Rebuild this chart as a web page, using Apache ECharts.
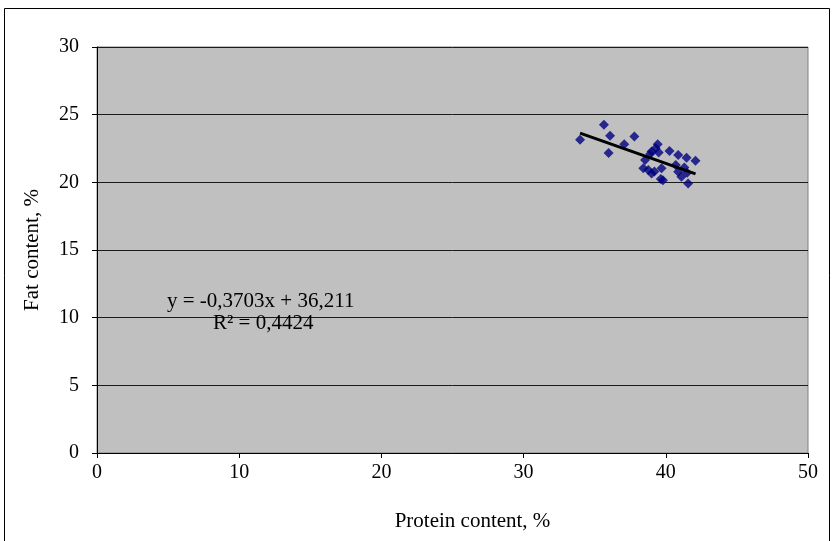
<!DOCTYPE html>
<html>
<head>
<meta charset="utf-8">
<script src="https://cdn.jsdelivr.net/npm/echarts@6/dist/echarts.min.js"></script>
<style>html,body{margin:0;padding:0;background:#fff;}#c{width:834px;height:541px;}</style>
</head>
<body>
<div id="c"></div>
<script>
var protein = [33.97, 35.65, 36.08, 35.98, 37.08, 37.79, 39.43, 39.29, 39.0, 39.5, 38.9, 40.26, 40.87, 41.46, 42.09, 38.54, 38.42, 38.77, 39.0, 39.2, 39.7, 39.65, 39.8, 40.7, 40.87, 41.1, 41.5, 41.57, 41.3];
var fat     = [23.15, 24.26, 23.45, 22.17, 22.81, 23.38, 22.81, 22.52, 22.27, 22.2, 22.1, 22.32, 22.02, 21.82, 21.6, 21.65, 21.04, 20.91, 20.65, 20.8, 21.04, 20.25, 20.15, 21.28, 20.79, 20.42, 20.7, 19.92, 21.1];
var slope = -0.3703, intercept = 36.211;
var eqText = 'y = -0,3703x + 36,211';
var r2Text = 'R² = 0,4424';
var xTicks = [0, 10, 20, 30, 40, 50];
var yTicks = [0, 5, 10, 15, 20, 25, 30];
var xName = 'Protein content, %';
var yName = 'Fat content, %';

var points = protein.map(function (x, i) { return [x, fat[i]]; });
var xmin = Math.min.apply(null, protein), xmax = Math.max.apply(null, protein);
var trend = [[xmin, slope * xmin + intercept], [xmax, slope * xmax + intercept]];

var font = 'Liberation Serif, Times New Roman, serif';
var chart = echarts.init(document.getElementById('c'));
chart.setOption({
  animation: false,
  backgroundColor: '#fff',
  grid: { left: 97, right: 26, top: 47, bottom: 88, show: true, backgroundColor: '#c0c0c0', borderColor: '#808080', borderWidth: 1 },
  xAxis: {
    type: 'value', min: xTicks[0], max: xTicks[xTicks.length - 1], interval: 10,
    name: xName, nameLocation: 'middle', nameGap: 58,
    nameTextStyle: { fontFamily: font, fontSize: 21, color: '#000', padding: [0, 0, 0, 40] },
    axisLine: { show: true, lineStyle: { color: '#000', width: 1 } },
    axisTick: { show: true, inside: false, length: 5, lineStyle: { color: '#000' } },
    axisLabel: { fontFamily: font, fontSize: 20, color: '#000', margin: 10 },
    splitLine: { show: false }
  },
  yAxis: {
    type: 'value', min: yTicks[0], max: yTicks[yTicks.length - 1], interval: 5,
    name: yName, nameLocation: 'middle', nameGap: 54, nameRotate: 90,
    nameTextStyle: { fontFamily: font, fontSize: 21, color: '#000' },
    axisLine: { show: true, lineStyle: { color: '#000', width: 1 } },
    axisTick: { show: true, inside: false, length: 5, lineStyle: { color: '#000' } },
    axisLabel: { fontFamily: font, fontSize: 20, color: '#000', margin: 18 },
    splitLine: { show: true, lineStyle: { color: '#1a1a1a', width: 1 } }
  },
  graphic: [
    { type: 'rect', shape: { x: 4.5, y: 8.5, width: 825, height: 540 }, style: { fill: 'none', stroke: '#000', lineWidth: 1 }, silent: true, z: -10 },
    { type: 'text', left: 167, top: 291, style: { text: eqText, fontFamily: font, fontSize: 21, fill: '#000' }, z: 100 },
    { type: 'text', left: 213, top: 313, style: { text: r2Text, fontFamily: font, fontSize: 21, fill: '#000' }, z: 100 }
  ],
  series: [
    {
      type: 'scatter', data: points, symbol: 'diamond', symbolSize: 10,
      itemStyle: { color: '#000080' }, z: 3
    },
    {
      type: 'line', data: trend, symbol: 'none', showSymbol: false,
      lineStyle: { color: '#000', width: 3 }, z: 4
    }
  ]
});
</script>
</body>
</html>
